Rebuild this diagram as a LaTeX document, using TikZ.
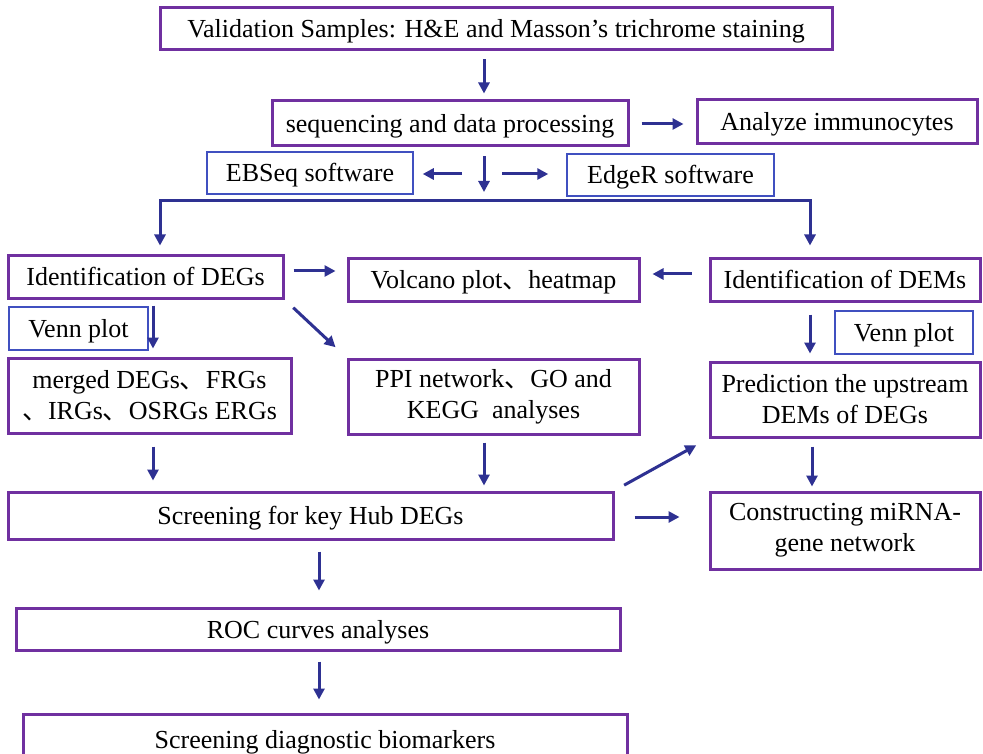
\documentclass[tikz,border=0pt]{standalone}
\usepackage{fontspec}
\setmainfont{Liberation Serif}
\newfontfamily\cjk{Noto Sans CJK SC}
\usetikzlibrary{arrows.meta}
\definecolor{boxpurple}{HTML}{7030A0}
\definecolor{arrowblue}{HTML}{2E3192}
\definecolor{boxblue}{HTML}{4050C0}
\newcommand{\dun}{{\cjk 、}}
\begin{document}
\begin{tikzpicture}[x=1pt,y=-1pt,
  pbox/.style={draw=boxpurple, line width=3pt, inner sep=0pt, font=\fontsize{26}{31}\selectfont, text height=22pt, text depth=4pt},
  pbox2/.style={draw=boxpurple, line width=3pt, inner sep=0pt, align=center, font=\fontsize{26}{31}\selectfont},
  bbox/.style={draw=boxblue, line width=1.5pt, inner sep=0pt, font=\fontsize{26}{31}\selectfont, text height=22pt, text depth=4pt},
  arr/.style={draw=arrowblue, line width=3pt, -{Triangle[length=11pt,width=11pt]}},
  ]
\useasboundingbox (0,0) rectangle (983,754);
\fill[white] (0,0) rectangle (983,754);

% boxes
\node[pbox, minimum width=672pt, minimum height=42pt] (val) at (496,29) {Validation Samples: H\&E and Masson’s trichrome staining};
\node[pbox, minimum width=356pt, minimum height=45pt] (seq) at (450,123.5) {sequencing and data processing};
\node[pbox, minimum width=280pt, minimum height=44pt] (ana) at (837,122) {Analyze immunocytes};
\node[bbox, minimum width=206pt, minimum height=42pt] (ebs) at (310,173) {EBSeq software};
\node[bbox, minimum width=207pt, minimum height=42pt] (edg) at (670.5,175) {EdgeR software};
\node[pbox, minimum width=275pt, minimum height=42pt] (degs) at (145.5,277) {Identification of DEGs};
\node[pbox, minimum width=291pt, minimum height=42pt] (vol) at (493.5,280) {Volcano plot\dun heatmap};
\node[pbox, minimum width=270pt, minimum height=42pt] (dems) at (845,280) {Identification of DEMs};
\node[bbox, minimum width=139pt, minimum height=43pt] (venna) at (78.5,328.5) {Venn plot\hspace{12pt}};
\node[pbox2, minimum width=283pt, minimum height=75pt] (merged) at (149.5,395.5) {merged DEGs\dun FRGs\\\dun IRGs\dun OSRGs ERGs};
\node[pbox2, minimum width=291pt, minimum height=75pt] (ppi) at (493.5,396.5) {PPI network\dun GO and\\KEGG~ analyses};
\node[bbox, minimum width=138pt, minimum height=43pt] (vennb) at (904,332.5) {Venn plot};
\node[pbox2, minimum width=270pt, minimum height=75pt] (pred) at (845,399.5) {Prediction the upstream\\DEMs of DEGs};
\node[pbox, minimum width=605pt, minimum height=47pt] (hub) at (310.5,515.5) {Screening for key Hub DEGs};
\node[pbox2, minimum width=270pt, minimum height=77pt] (cons) at (845,530.5) {Constructing miRNA-\\gene network};
\node[pbox, minimum width=604pt, minimum height=42pt] (roc) at (318,629) {ROC curves analyses};
\node[pbox, minimum width=604pt, minimum height=50pt] (bio) at (325,739) {Screening diagnostic biomarkers};

% helper coordinates
\coordinate (x484) at (484,0);
\coordinate (x160) at (160,0);
\coordinate (x810) at (810,0);
\coordinate (x153) at (153,0);
\coordinate (x812) at (812,0);
\coordinate (x319) at (319,0);
\coordinate (y124) at (0,124);
\coordinate (y271) at (0,271);
\coordinate (y274) at (0,274);
\coordinate (y517) at (0,517);
\coordinate (split) at (484,192);
\coordinate (lsrc) at (462,174);
\coordinate (rsrc) at (502,174);
\coordinate (bl) at (484,201);

% connectors
\draw[arr, shorten <=8pt, shorten >=6pt] (val.south -| x484) -- (seq.north -| x484);
\draw[arr, shorten <=12pt, shorten >=12pt] (seq.east |- y124) -- (ana.west |- y124);
\draw[arr, shorten <=9pt] (seq.south -| x484) -- (split);
\draw[arr, shorten >=9pt] (lsrc) -- (ebs.east |- lsrc);
\draw[arr, shorten >=18pt] (rsrc) -- (edg.west |- rsrc);
\draw[arr, shorten >=9pt] (bl) -| (x160 |- degs.north);
\draw[arr, shorten >=12pt] (bl) -| (x810 |- dems.north);
\draw[arr, shorten <=9pt, shorten >=11pt] (degs.east |- y271) -- (vol.west |- y271);
\draw[arr, shorten <=17pt, shorten >=12pt] (dems.west |- y274) -- (vol.east |- y274);
\draw[arr, shorten <=12pt, shorten >=15pt] (degs.south east) -- (ppi.north west);
\draw[arr, shorten <=6pt, shorten >=8pt] (x153 |- degs.south) -- (x153 |- merged.north);
\draw[arr, shorten <=12pt, shorten >=7pt] (x810 |- dems.south) -- (x810 |- pred.north);
\draw[arr, shorten <=12pt, shorten >=10pt] (x153 |- merged.south) -- (x153 |- hub.north);
\draw[arr, shorten <=7pt, shorten >=5pt] (x484 |- ppi.south) -- (x484 |- hub.north);
\draw[arr, shorten <=11pt, shorten >=14pt] (hub.north east) -- (pred.south west);
\draw[arr, shorten <=8pt, shorten >=4pt] (x812 |- pred.south) -- (x812 |- cons.north);
\draw[arr, shorten <=20pt, shorten >=29pt] (hub.east |- y517) -- (cons.west |- y517);
\draw[arr, shorten <=11pt, shorten >=16pt] (x319 |- hub.south) -- (x319 |- roc.north);
\draw[arr, shorten <=10pt, shorten >=13pt] (x319 |- roc.south) -- (x319 |- bio.north);
\end{tikzpicture}
\end{document}
